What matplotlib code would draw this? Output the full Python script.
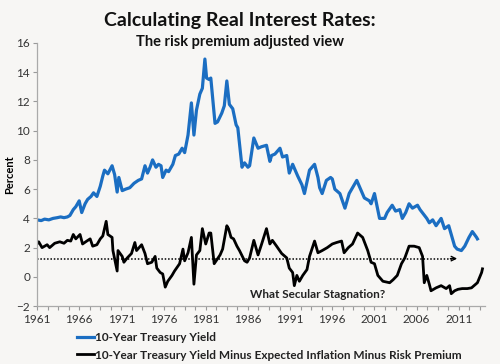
import matplotlib.pyplot as plt
import numpy as np

# 10-year treasury yield (blue)
yield_years = [
    1961.0, 1961.5, 1961.9, 1962.4, 1962.9, 1963.4, 1963.8, 1964.2, 1964.6, 1964.9,
    1965.3, 1965.6, 1966.0, 1966.3, 1966.7, 1967.0, 1967.4, 1967.7, 1968.1, 1968.5,
    1968.8, 1969.0, 1969.4, 1969.9, 1970.2, 1970.5, 1970.7, 1971.1, 1971.5, 1972.0,
    1972.5, 1973.0, 1973.4, 1973.8, 1974.1, 1974.4, 1974.7, 1975.1, 1975.4, 1975.7,
    1975.9, 1976.3, 1976.6, 1977.1, 1977.4, 1977.8, 1978.2, 1978.5, 1978.9, 1979.3,
    1979.6, 1979.9, 1980.3, 1980.6, 1980.9, 1981.1, 1981.4, 1981.6, 1982.1, 1982.4,
    1982.9, 1983.2, 1983.5, 1983.8, 1984.2, 1984.6, 1984.8, 1985.3, 1985.6, 1986.0,
    1986.2, 1986.7, 1987.2, 1987.6, 1988.2, 1988.6, 1988.8, 1989.2, 1989.8, 1990.1,
    1990.6, 1990.9, 1991.3, 1991.9, 1992.4, 1992.7, 1993.3, 1993.9, 1994.3, 1994.5,
    1994.8, 1995.3, 1995.8, 1996.0, 1996.3, 1996.9, 1997.5, 1998.0, 1998.9, 1999.2,
    1999.8, 2000.1, 2000.4, 2000.6, 2001.0, 2001.6, 2002.2, 2002.5, 2003.1, 2003.5,
    2004.0, 2004.3, 2004.7, 2005.1, 2005.5, 2006.1, 2006.4, 2007.2, 2007.5, 2007.9,
    2008.3, 2008.9, 2009.3, 2009.8, 2010.1, 2010.5, 2010.8, 2011.3, 2011.7, 2012.2,
    2012.6, 2013.1, 2013.2,
]
yield_vals = [
    3.9, 3.85, 3.95, 3.9, 4.0, 4.05, 4.1, 4.05, 4.1, 4.2,
    4.6, 4.8, 5.2, 4.4, 5.0, 5.3, 5.5, 5.75, 5.5, 6.2,
    6.9, 7.3, 7.05, 7.6, 7.0, 5.8, 6.8, 5.9, 6.0, 6.1,
    6.4, 6.6, 6.7, 7.6, 7.1, 7.5, 8.0, 7.5, 7.7, 7.6,
    6.8, 7.3, 7.2, 7.7, 8.3, 8.4, 8.8, 8.5, 9.7, 11.9,
    9.7, 11.4, 12.5, 12.9, 14.9, 13.6, 13.5, 13.6, 10.5, 10.6,
    11.2, 11.7, 13.4, 11.8, 11.5, 10.4, 10.2, 7.5, 7.8, 7.5,
    7.6, 9.5, 8.8, 8.9, 9.0, 7.9, 8.3, 8.4, 8.8, 8.2,
    8.3, 7.1, 7.7, 6.9, 6.3, 5.7, 7.3, 7.7, 6.8, 6.1,
    5.7, 6.6, 6.8, 6.7, 6.0, 5.7, 4.7, 5.7, 6.6, 6.2,
    5.4, 5.3, 5.2, 5.0, 5.7, 4.0, 4.0, 4.4, 4.9, 4.5,
    4.6, 4.0, 4.4, 5.0, 4.7, 4.9, 4.6, 4.0, 3.7, 3.9,
    3.5, 4.0, 3.3, 3.5, 2.9, 2.1, 1.9, 1.8, 2.1, 2.7,
    3.1, 2.7, 2.6,
]

# yield minus expected inflation minus risk premium (black)
real_years = [
    1961.0, 1961.2, 1961.6, 1962.2, 1962.5, 1963.1, 1963.7, 1964.2, 1964.6, 1965.0,
    1965.3, 1965.6, 1966.1, 1966.4, 1966.9, 1967.3, 1967.6, 1968.1, 1968.5, 1968.8,
    1969.2, 1969.4, 1969.9, 1970.0, 1970.5, 1970.6, 1971.1, 1971.3, 1971.7, 1972.2,
    1972.6, 1972.8, 1973.4, 1973.8, 1974.1, 1974.6, 1975.0, 1975.2, 1975.6, 1975.9,
    1976.2, 1976.5, 1977.0, 1977.3, 1977.9, 1978.3, 1978.5, 1978.9, 1979.3, 1979.6,
    1979.9, 1980.3, 1980.6, 1981.0, 1981.4, 1981.6, 1982.0, 1982.7, 1983.0, 1983.5,
    1983.7, 1984.0, 1984.3, 1984.7, 1985.0, 1985.6, 1985.9, 1986.2, 1986.7, 1987.2,
    1987.6, 1988.2, 1988.6, 1988.9, 1989.4, 1990.0, 1990.6, 1990.9, 1991.3, 1991.5,
    1991.8, 1992.1, 1992.5, 1993.0, 1993.3, 1993.9, 1994.3, 1994.8, 1995.4, 1996.0,
    1996.5, 1997.1, 1997.4, 1997.9, 1998.4, 1999.0, 1999.6, 2000.2, 2000.6, 2001.0,
    2001.4, 2002.0, 2002.8, 2003.2, 2003.7, 2004.2, 2004.6, 2005.1, 2005.7, 2006.3,
    2006.7, 2006.9, 2007.2, 2007.5, 2007.7, 2008.3, 2008.9, 2009.5, 2009.9, 2010.1,
    2010.5, 2010.9, 2011.4, 2012.0, 2012.5, 2012.8, 2013.2, 2013.7, 2013.8,
]
real_vals = [
    2.25, 2.4, 2.0, 2.2, 2.0, 2.3, 2.4, 2.3, 2.5, 2.45,
    2.9, 2.6, 2.9, 2.25, 2.45, 2.6, 2.1, 2.2, 2.6, 2.8,
    3.8, 2.9, 2.7, 1.8, 0.4, 1.8, 1.4, 1.0, 1.3, 1.6,
    2.35, 1.8, 2.2, 1.6, 0.9, 1.0, 1.4, 0.6, 0.3, 0.2,
    -0.7, -0.3, 0.1, 0.4, 0.9, 1.9, 1.1, 1.65, 2.7, -0.5,
    1.5, 1.8, 3.3, 2.25, 3.0, 3.0, 0.9, 1.5, 1.9, 3.5,
    3.3, 2.7, 2.6, 2.1, 1.8, 1.1, 1.0, 1.3, 2.5, 1.5,
    2.2, 3.3, 2.25, 2.5, 2.1, 1.6, 1.3, 0.6, 0.3, -0.6,
    0.1, -0.3, 0.1, 0.5, 1.4, 2.45, 1.65, 1.8, 2.0, 2.25,
    2.35, 2.45, 1.65, 2.0, 2.25, 3.0, 2.7, 1.8, 1.0, 0.9,
    0.1, -0.3, -0.4, -0.2, 0.1, 0.9, 1.3, 2.1, 2.1, 2.0,
    1.4, -0.4, 0.1, -0.5, -0.95, -0.75, -0.6, -0.8, -0.6, -1.15,
    -0.95, -0.85, -0.8, -0.8, -0.75, -0.6, -0.4, 0.3, 0.55,
]

avg_level = 1.25
avg_end = 2010.5
label_years = list(range(1961, 2012, 5))
y_ticks = list(range(-2, 17, 2))

bg = "#f7f6f4"
blue = "#1b6ec2"
font = ["Lato", "DejaVu Sans"]
plt.rcParams["font.family"] = font

fig = plt.figure(figsize=(5, 3.64), dpi=100, facecolor=bg)
ax = fig.add_axes([0.074, 0.159, 0.896, 0.723], facecolor=bg)

ax.plot(yield_years, yield_vals, color=blue, lw=2.3, solid_joinstyle="round",
        label="10-Year Treasury Yield")
ax.plot(real_years, real_vals, color="black", lw=2.0, solid_joinstyle="round",
        label="10-Year Treasury Yield Minus Expected Inflation Minus Risk Premium")

# dotted average with arrow head
ax.plot([1961, avg_end], [avg_level, avg_level], color="black", lw=1.1, ls=(0, (1, 1.2)))
ax.annotate("", xy=(avg_end + 0.3, avg_level), xytext=(avg_end - 0.5, avg_level),
            arrowprops=dict(arrowstyle="->", color="black", lw=1.0,
                            mutation_scale=8, shrinkA=0, shrinkB=0))

ax.text(1986.2, -1.2, "What Secular Stagnation?", fontsize=8.5, fontweight="bold",
        color="#222222", va="center", ha="left")

ax.set_xlim(1961, 2014.1)
ax.set_ylim(-2, 16)
ax.set_yticks(y_ticks)
ax.set_xticks(label_years)
ax.set_xticks(np.arange(1961, 2014.2, 1.25), minor=True)
ax.tick_params(axis="both", labelsize=8.5, colors="#333333", length=3, width=0.8)
ax.tick_params(axis="x", which="minor", length=3, width=0.8, color="#999999")
ax.tick_params(axis="x", which="major", color="#999999", pad=3)
ax.tick_params(axis="y", color="#999999", pad=2)
for s in ["top", "right"]:
    ax.spines[s].set_visible(False)
for s in ["left", "bottom"]:
    ax.spines[s].set_color("#aaaaaa")
    ax.spines[s].set_linewidth(0.9)

ax.set_ylabel("Percent", fontsize=8, fontweight="bold", labelpad=1)

fig.text(0.48, 0.945, "Calculating Real Interest Rates:", ha="center", va="center",
         fontsize=14, fontweight="bold", color="#111111")
fig.text(0.48, 0.885, "The risk premium adjusted view", ha="center", va="center",
         fontsize=10.5, fontweight="bold", color="#111111")

leg = fig.legend(loc="lower left", bbox_to_anchor=(0.14, -0.01), frameon=False,
                 fontsize=8.5, handlelength=1.4, handletextpad=0.1, labelspacing=0.55,
                 borderaxespad=0.2)
for t in leg.get_texts():
    t.set_fontweight("bold")
    t.set_color("#222222")

fig.savefig("out.png", dpi=100, facecolor=bg)
